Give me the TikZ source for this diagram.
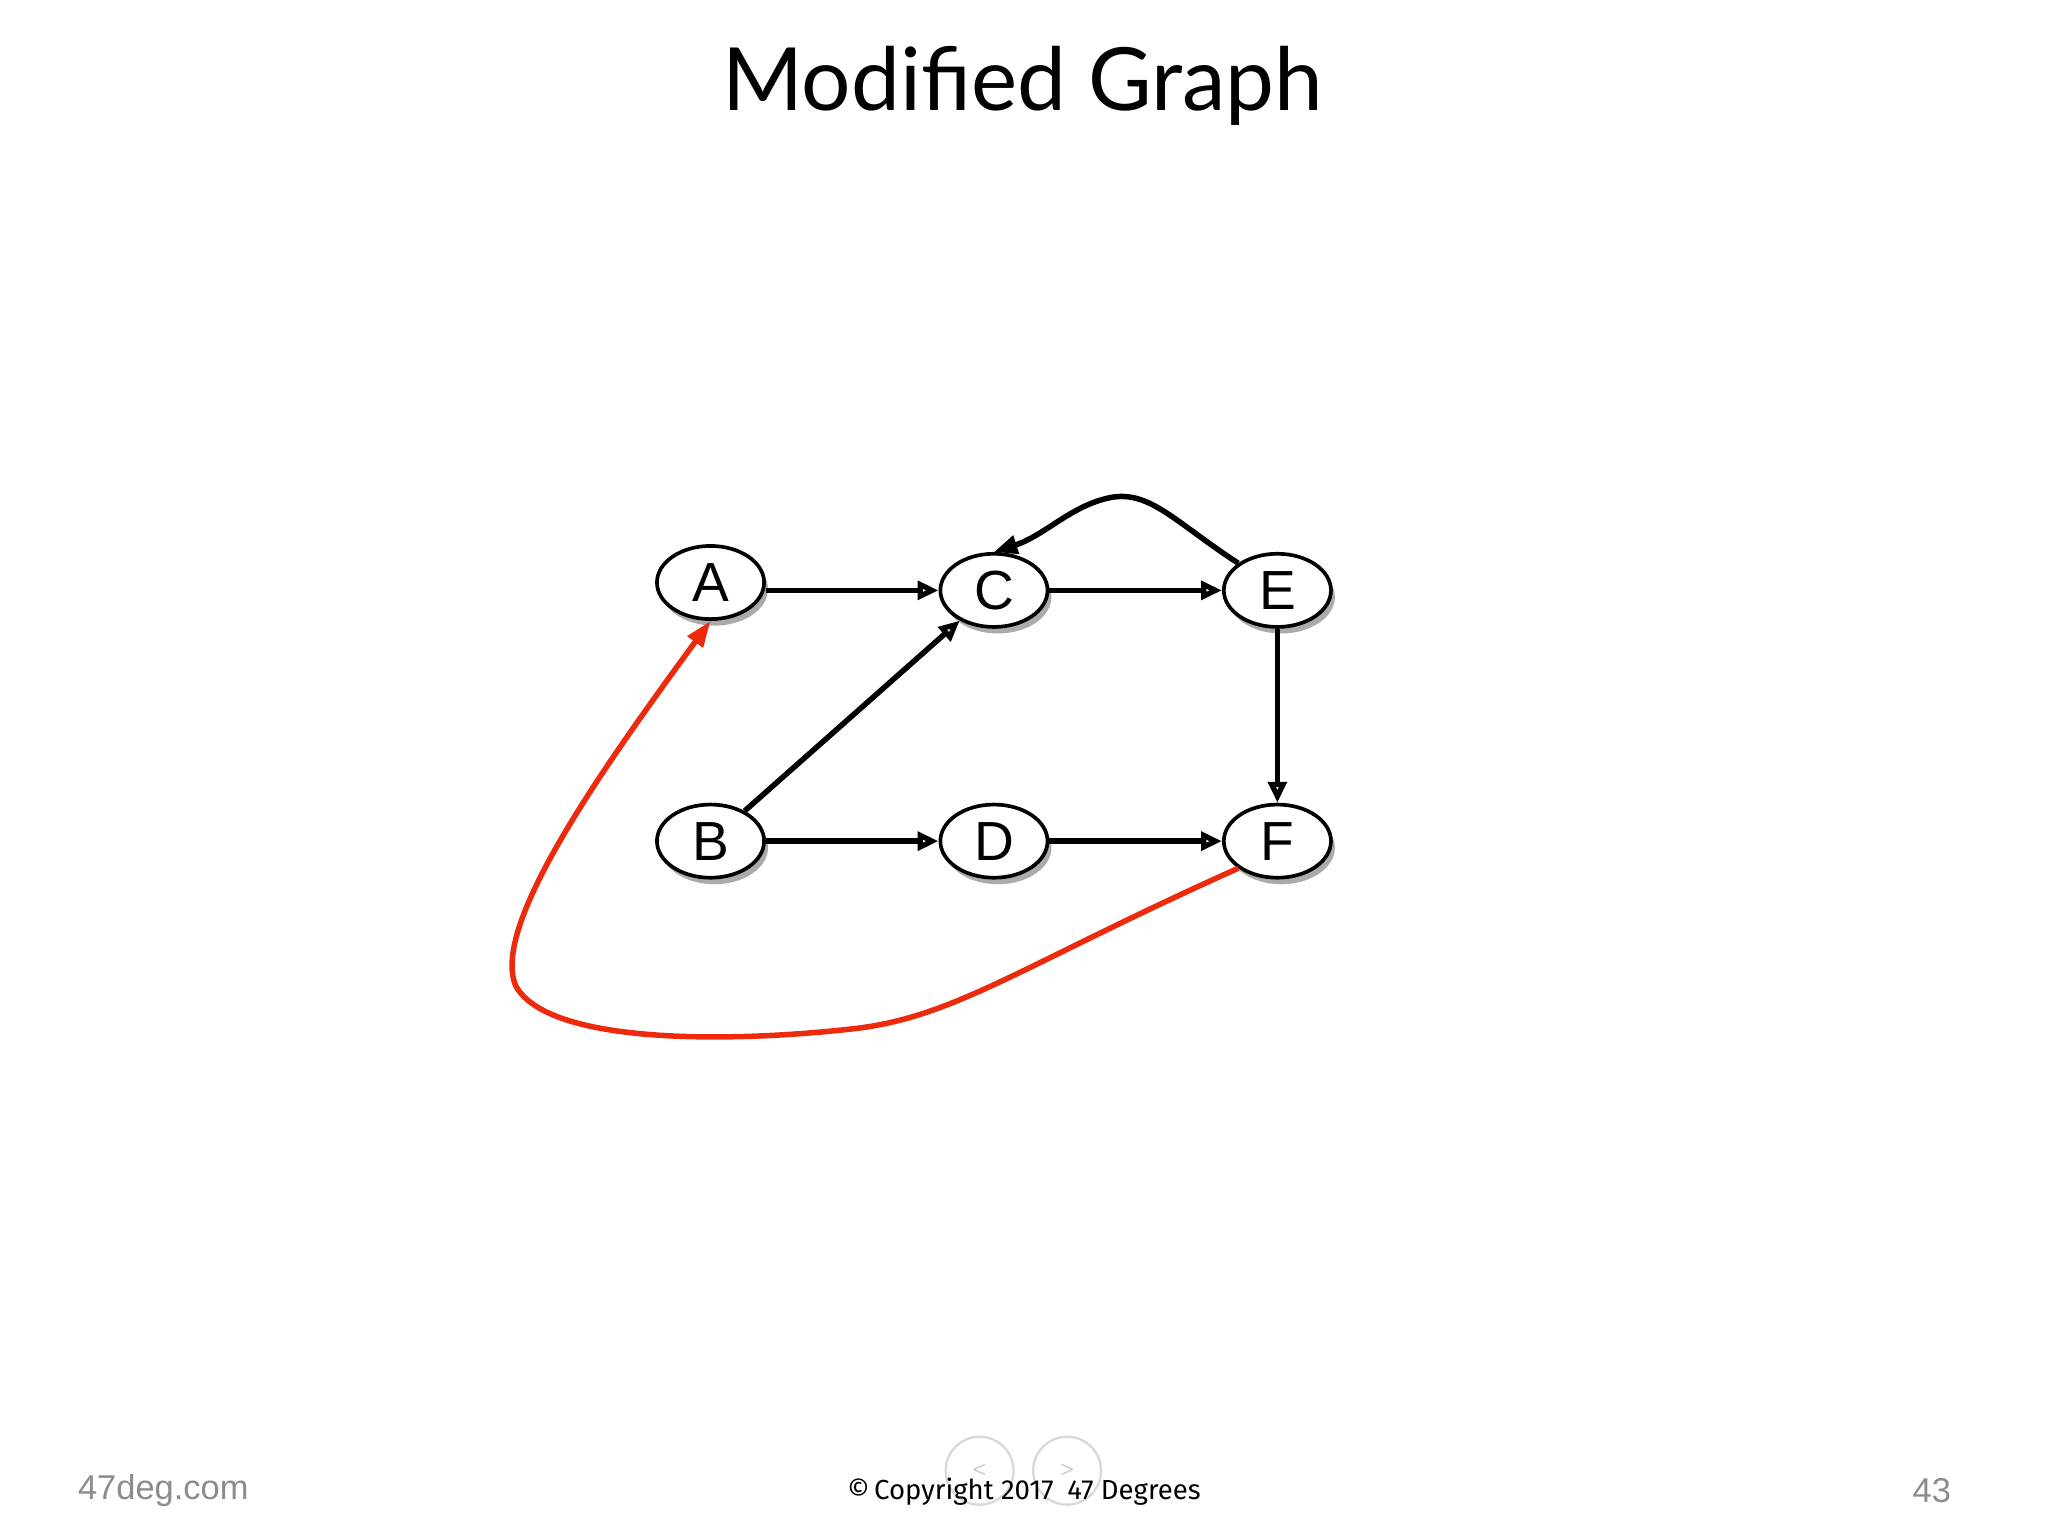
\documentclass[tikz,border=0pt]{standalone}
\usepackage{fontspec}
\setmainfont{Liberation Sans}
\newfontfamily\titlefont{Lato}
\newfontfamily\footfont{Fira Sans}
\usetikzlibrary{arrows.meta,shapes.geometric,shadows}
\definecolor{redline}{RGB}{238,42,12}
\begin{document}
\begin{tikzpicture}[x=0.01cm,y=-0.01cm,
  vert/.style={ellipse,draw,line width=0.8pt,fill=white,minimum width=0.82cm,minimum height=0.56cm,inner sep=0pt,font=\fontsize{12}{12}\selectfont,
    drop shadow={shadow xshift=0.03cm,shadow yshift=-0.05cm,fill=black!55,opacity=0.6}},
  edge/.style={line width=1.2pt,-{Triangle[open,length=0.16cm,width=0.14cm]}},
  redge/.style={line width=1.2pt,draw=redline,-{Triangle[length=0.2cm,width=0.14cm,fill=redline]}}]
\useasboundingbox (0,0) rectangle (1568,1176);
\node[font=\titlefont\fontsize{19}{19}\selectfont] (title) at (783,66) {Modified Graph};
\node[vert] (A) at (544,446) {A};
\node[vert] (C) at (761,452) {C};
\node[vert] (E) at (978,452) {E};
\node[vert] (B) at (544,644) {B};
\node[vert] (D) at (761,644) {D};
\node[vert] (F) at (978,644) {F};
\draw[edge] (A.east |- C) -- (C);
\draw[edge] (C) -- (E);
\draw[edge] (B) -- (D);
\draw[edge] (D) -- (F);
\draw[edge] (B) -- (C);
\draw[edge] (E) -- (F);
\draw[line width=1.2pt,-{Triangle[length=0.18cm,width=0.14cm]}] (E.north west) .. controls (900,400) and (880,375) .. (850,381) .. controls (820,387) and (800,410) .. (C.north);
\draw[redge] (F.south west) .. controls (780,740) and (730,780) .. (650,788) .. controls (560,798) and (420,800) .. (395,755) .. controls (375,710) and (460,590) .. (A.south);
\node[text=black!45,font=\fontsize{7.5}{7.5}\selectfont] (web) at (125,1141) {47deg.com};
\node[text=black!45,font=\fontsize{7.5}{7.5}\selectfont] (num) at (1479,1141) {43};
\draw[black!15,line width=0.5pt] (750,1126) circle (26);
\draw[black!15,line width=0.5pt] (817,1126) circle (26);
\node[text=black!20,font=\fontsize{5}{5}\selectfont] (prev) at (750,1126) {<};
\node[text=black!20,font=\fontsize{5}{5}\selectfont] (next) at (817,1126) {>};
\node[font=\footfont\fontsize{6}{6}\selectfont] (copy) at (784,1142) {\textcopyright\,Copyright 2017\enspace 47 Degrees};
\end{tikzpicture}
\end{document}
